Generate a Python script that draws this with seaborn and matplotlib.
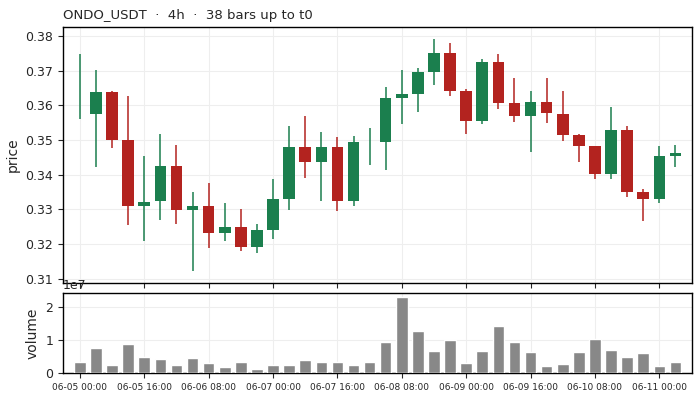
import numpy as np
import pandas as pd
import matplotlib
matplotlib.use("Agg")
import matplotlib.pyplot as plt
from matplotlib.ticker import MultipleLocator
import seaborn as sns

# OHLC values (38 bars of 4h)
opens = [0.3640, 0.3574, 0.3639, 0.3499, 0.3309, 0.3323, 0.3425, 0.3297, 0.3308, 0.3231,
         0.3248, 0.3191, 0.3239, 0.3330, 0.3479, 0.3437, 0.3479, 0.3323, 0.3494, 0.3494,
         0.3622, 0.3633, 0.3696, 0.3750, 0.3642, 0.3554, 0.3725, 0.3605, 0.3569, 0.3608,
         0.3576, 0.3513, 0.3482, 0.3403, 0.3528, 0.3350, 0.3329, 0.3454]
closes = [0.3640, 0.3639, 0.3500, 0.3309, 0.3322, 0.3425, 0.3297, 0.3308, 0.3231, 0.3248,
          0.3191, 0.3239, 0.3330, 0.3479, 0.3437, 0.3479, 0.3323, 0.3493, 0.3494, 0.3622,
          0.3633, 0.3696, 0.3750, 0.3642, 0.3554, 0.3725, 0.3606, 0.3569, 0.3608, 0.3577,
          0.3514, 0.3483, 0.3403, 0.3528, 0.3351, 0.3329, 0.3453, 0.3462]
highs = [0.3747, 0.3701, 0.3641, 0.3627, 0.3453, 0.3518, 0.3484, 0.3350, 0.3375, 0.3319,
         0.3301, 0.3258, 0.3387, 0.3541, 0.3570, 0.3524, 0.3508, 0.3512, 0.3533, 0.3652,
         0.3701, 0.3707, 0.3792, 0.3778, 0.3647, 0.3732, 0.3748, 0.3678, 0.3641, 0.3678,
         0.3641, 0.3518, 0.3483, 0.3595, 0.3541, 0.3358, 0.3481, 0.3484]
lows = [0.3559, 0.3422, 0.3478, 0.3255, 0.3208, 0.3270, 0.3258, 0.3121, 0.3189, 0.3208,
        0.3181, 0.3175, 0.3215, 0.3299, 0.3389, 0.3323, 0.3295, 0.3310, 0.3427, 0.3412,
        0.3547, 0.3581, 0.3658, 0.3627, 0.3518, 0.3547, 0.3590, 0.3552, 0.3464, 0.3549,
        0.3498, 0.3435, 0.3387, 0.3387, 0.3335, 0.3267, 0.3318, 0.3421]
volumes = [0.34, 0.76, 0.25, 0.88, 0.48, 0.42, 0.25, 0.46, 0.31, 0.19,
           0.33, 0.13, 0.25, 0.25, 0.39, 0.33, 0.33, 0.25, 0.33, 0.94,
           2.30, 1.28, 0.66, 0.99, 0.31, 0.66, 1.43, 0.94, 0.63, 0.22,
           0.28, 0.63, 1.04, 0.69, 0.48, 0.60, 0.22, 0.33]
volumes = [v * 1e7 for v in volumes]
tick_labels = ["06-05 00:00", "06-05 16:00", "06-06 08:00", "06-07 00:00", "06-07 16:00",
               "06-08 08:00", "06-09 00:00", "06-09 16:00", "06-10 08:00", "06-11 00:00"]

up_color = "#1b7f4e"
down_color = "#b3231f"

df = pd.DataFrame({"open": opens, "close": closes, "high": highs, "low": lows, "volume": volumes})
df["i"] = np.arange(len(df))
up = df["close"] >= df["open"]
df["color"] = np.where(up, up_color, down_color)

sns.set_theme(style="ticks", rc={
    "xtick.major.size": 3.5, "ytick.major.size": 3.5,
    "xtick.major.width": 0.8, "ytick.major.width": 0.8,
    "xtick.major.pad": 3.5, "ytick.major.pad": 3.5,
    "xtick.labelsize": 9, "ytick.labelsize": 9,
    "axes.labelsize": 10, "axes.titlesize": 10,
})
plt.rcParams["font.family"] = ["DejaVu Sans"]

fig = plt.figure(figsize=(7, 4), dpi=100)
gs = fig.add_gridspec(2, 1, height_ratios=[3.2, 1], hspace=0.06,
                      left=0.09, right=0.989, top=0.9325, bottom=0.0675)
ax = fig.add_subplot(gs[0])
ax2 = fig.add_subplot(gs[1], sharex=ax)

# candles: wicks then bodies
ax.vlines(df["i"], df["low"], df["high"], colors=df["color"], linewidth=1.1, zorder=2)
body_lo = df[["open", "close"]].min(axis=1)
body_h = (df["close"] - df["open"]).abs()
ax.bar(df["i"], body_h, bottom=body_lo, width=0.72, color=df["color"], linewidth=0, zorder=3)
ax.set_ylabel("price")
ax.set_title("ONDO_USDT  ·  4h  ·  38 bars up to t0", loc="left", fontsize=9.5, pad=6)
ax.tick_params(axis="x", labelbottom=False)

# volume
sns.barplot(data=df, x="i", y="volume", color="#888888", width=0.72, saturation=1,
            ax=ax2, native_scale=True, zorder=3)
ax2.set_ylabel("volume")
ax2.set_xlabel("")
ax2.yaxis.set_major_locator(MultipleLocator(1e7))

ticks = np.arange(0, len(df), 4)
ax2.set_xticks(ticks)
ax2.set_xticklabels(tick_labels, fontsize=6.5)
ax.set_xlim(-1.05, len(df) + 0.05)

for a in (ax, ax2):
    a.grid(True, color="#eeeeee", linewidth=0.8, zorder=0)
    a.set_axisbelow(True)
    for s in a.spines.values():
        s.set_color("black")
        s.set_linewidth(1.0)

fig.savefig("out.png", dpi=100)
